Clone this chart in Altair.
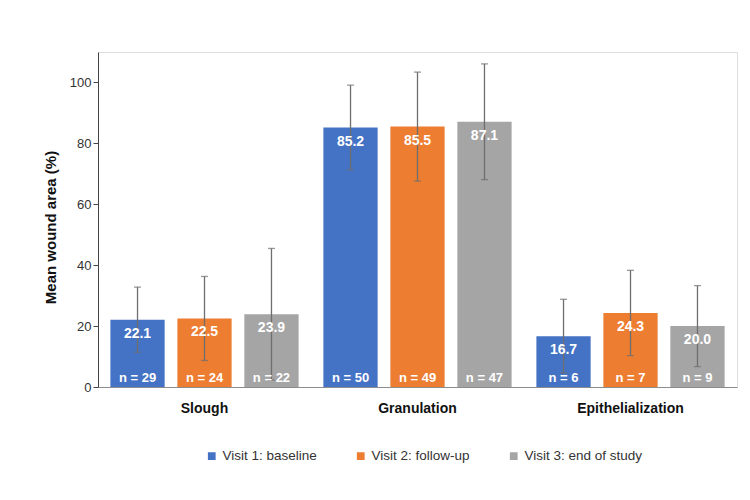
import altair as alt
import pandas as pd

# Tissue categories and study visits
categories = ["Slough", "Granulation", "Epithelialization"]
visits = ["Visit 1: baseline", "Visit 2: follow-up", "Visit 3: end of study"]
colors = ["#4472C4", "#ED7D31", "#A5A5A5"]

# Mean wound area (%) per category, one list per visit
mean_v1 = [22.1, 85.2, 16.7]
mean_v2 = [22.5, 85.5, 24.3]
mean_v3 = [23.9, 87.1, 20.0]

# Standard deviations (error bars)
sd_v1 = [10.7, 13.9, 12.1]
sd_v2 = [13.8, 17.9, 14.0]
sd_v3 = [21.6, 19.0, 13.3]

# Number of patients
n_v1 = [29, 50, 6]
n_v2 = [24, 49, 7]
n_v3 = [22, 47, 9]

rows = []
for visit, means, sds, ns in zip(
    visits, [mean_v1, mean_v2, mean_v3], [sd_v1, sd_v2, sd_v3], [n_v1, n_v2, n_v3]
):
    for cat, m, s, n in zip(categories, means, sds, ns):
        rows.append({
            "category": cat, "visit": visit, "mean": m,
            "lo": m - s, "hi": m + s, "nlabel": f"n = {n}", "zero": 0,
        })
df = pd.DataFrame(rows)

FONT = "Liberation Sans"

base = alt.Chart(df).encode(
    x=alt.X(
        "category:N", sort=categories, title=None,
        scale=alt.Scale(paddingInner=0, paddingOuter=0),
        axis=alt.Axis(labelAngle=0, labelFontSize=14, labelFontWeight="bold",
                      labelColor="#111", labelPadding=14, ticks=False,
                      domainColor="#8c8c8c", labelFont=FONT),
    ),
    xOffset=alt.XOffset("visit:N", sort=visits,
                        scale=alt.Scale(paddingInner=0.19, paddingOuter=0.185)),
)

yscale = alt.Scale(domain=[0, 110], nice=False)

bars = base.mark_bar().encode(
    y=alt.Y("mean:Q", scale=yscale, title="Mean wound area (%)",
            axis=alt.Axis(values=[0, 20, 40, 60, 80, 100], grid=False,
                          labelFontSize=13, labelColor="#333", labelFont=FONT,
                          titleFontSize=15, titleFontWeight="bold", titleFont=FONT,
                          titleColor="#111", titlePadding=11, titleY=175,
                          domainColor="#444", tickColor="#444", tickSize=5)),
    color=alt.Color("visit:N", sort=visits,
                    scale=alt.Scale(domain=visits, range=colors),
                    legend=alt.Legend(title=None, orient="none", direction="horizontal",
                                      legendX=107, legendY=397, symbolType="square",
                                      symbolSize=60, symbolStrokeWidth=0,
                                      labelFontSize=13.5, labelColor="#333",
                                      labelFont=FONT, columnPadding=37)),
)

err = base.mark_rule(color="#6e6e6e", strokeWidth=1.3).encode(
    y=alt.Y("lo:Q", scale=yscale), y2="hi:Q"
)
cap_hi = base.mark_tick(color="#6e6e6e", size=7, thickness=1.3, orient="horizontal").encode(
    y=alt.Y("hi:Q", scale=yscale)
)
cap_lo = base.mark_tick(color="#6e6e6e", size=7, thickness=1.3, orient="horizontal").encode(
    y=alt.Y("lo:Q", scale=yscale)
)

value_labels = base.mark_text(color="white", fontWeight="bold", fontSize=14,
                              baseline="middle", dy=14, font=FONT).encode(
    y=alt.Y("mean:Q", scale=yscale),
    text=alt.Text("mean:Q", format=".1f"),
)

n_labels = base.mark_text(color="white", fontWeight="bold", fontSize=13,
                          baseline="middle", dy=-9, font=FONT).encode(
    y=alt.Y("zero:Q", scale=yscale),
    text="nlabel:N",
)

chart = (
    alt.layer(bars, err, cap_hi, cap_lo, value_labels, n_labels)
    .properties(
        width=639, height=335,
        autosize=alt.AutoSizeParams(type="none"),
        padding={"left": 98, "top": 52, "right": 13, "bottom": 113},
    )
    .configure_view(stroke=None)
    .configure(background="white")
)

chart.save("out.html", embed_options={"renderer": "svg", "actions": False})
